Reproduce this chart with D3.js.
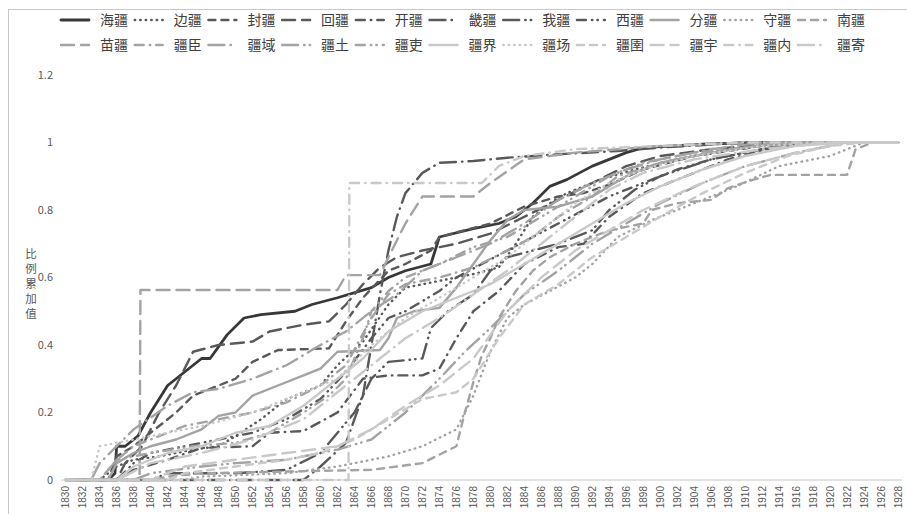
<!DOCTYPE html>
<html>
<head>
<meta charset="utf-8">
<script src="https://cdn.jsdelivr.net/npm/d3@7"></script>
<style>
	body { margin: 0; background: #fff; }
	svg { display: block; font-family: "Noto Sans CJK SC", "Noto Sans", sans-serif; }
</style>
</head>
<body>
<svg id="chart" width="907" height="514"></svg>
<script>
// series names, in legend order
const seriesNames = ['海疆', '边疆', '封疆', '回疆', '开疆', '畿疆', '我疆', '西疆', '分疆', '守疆', '南疆',
	'苗疆', '疆臣', '疆域', '疆土', '疆吏', '疆界', '疆场', '疆圉', '疆宇', '疆内', '疆寄'];

// [year, cumulative share]
const haijiang = [[1830,0],[1835,0],[1835.8,0.02],[1836,0.1],[1837,0.1],[1838.5,0.13],[1840,0.2],[1842,0.28],[1844,0.32],[1846,0.36],[1847,0.36],[1849,0.43],[1851,0.48],[1853,0.49],[1857,0.5],[1859,0.52],[1862,0.54],[1866,0.57],[1868,0.6],[1870,0.62],[1873,0.64],[1874,0.72],[1878,0.745],[1881,0.76],[1883,0.78],[1885,0.82],[1887,0.87],[1889,0.89],[1892,0.93],[1894,0.95],[1896,0.97],[1898,0.985],[1905,0.995],[1912,1],[1928,1]];
const bianjiang = [[1830,0],[1834,0],[1836,0.04],[1838,0.06],[1841,0.07],[1845,0.09],[1848,0.1],[1850,0.13],[1853,0.18],[1856,0.24],[1860,0.28],[1862,0.34],[1865,0.41],[1868,0.52],[1870,0.57],[1874,0.59],[1878,0.61],[1881,0.63],[1883,0.7],[1885,0.78],[1887,0.82],[1889,0.85],[1893,0.89],[1897,0.92],[1902,0.95],[1908,0.98],[1915,1],[1928,1]];
const fengjiang = [[1830,0],[1835,0],[1836,0.07],[1838,0.1],[1840,0.14],[1843,0.2],[1845,0.25],[1848,0.28],[1850,0.3],[1852,0.35],[1855,0.385],[1861,0.39],[1863,0.47],[1865,0.54],[1868,0.62],[1870,0.64],[1873,0.68],[1874,0.72],[1877,0.74],[1880,0.76],[1884,0.81],[1888,0.84],[1891,0.85],[1894,0.875],[1898,0.92],[1904,0.96],[1912,0.99],[1920,1],[1928,1]];
const huijiang = [[1830,0],[1836,0],[1837,0.05],[1839,0.1],[1841,0.2],[1843,0.28],[1845,0.38],[1848,0.4],[1852,0.41],[1854,0.44],[1858,0.46],[1861,0.47],[1863,0.52],[1865,0.58],[1867,0.63],[1869,0.66],[1872,0.68],[1876,0.7],[1880,0.73],[1884,0.78],[1888,0.83],[1892,0.88],[1896,0.93],[1900,0.96],[1906,0.98],[1914,1],[1928,1]];
const kaijiang = [[1830,0],[1836,0],[1838,0.03],[1842,0.06],[1846,0.095],[1852,0.1],[1854,0.14],[1858,0.145],[1862,0.2],[1865,0.3],[1868,0.31],[1872,0.31],[1874,0.33],[1876,0.42],[1878,0.5],[1881,0.56],[1884,0.64],[1888,0.69],[1891,0.7],[1894,0.78],[1898,0.85],[1903,0.9],[1908,0.95],[1914,0.99],[1920,1],[1928,1]];
const jijiang = [[1830,0],[1858,0],[1860,0.04],[1863,0.11],[1865,0.25],[1866,0.4],[1867,0.55],[1868,0.68],[1869,0.78],[1870,0.85],[1872,0.91],[1874,0.94],[1878,0.945],[1882,0.955],[1888,0.965],[1895,0.975],[1900,0.985],[1910,1],[1928,1]];
const wojiang = [[1830,0],[1840,0],[1842,0.02],[1850,0.02],[1856,0.03],[1860,0.08],[1864,0.2],[1866,0.3],[1868,0.35],[1872,0.36],[1873,0.45],[1875,0.5],[1878,0.55],[1880,0.62],[1882,0.66],[1885,0.68],[1888,0.7],[1892,0.74],[1894,0.8],[1897,0.86],[1900,0.9],[1906,0.95],[1912,0.98],[1918,1],[1928,1]];
const xijiang = [[1830,0],[1836,0],[1838,0.05],[1840,0.08],[1844,0.1],[1848,0.12],[1852,0.14],[1856,0.18],[1860,0.24],[1863,0.32],[1866,0.42],[1868,0.48],[1870,0.5],[1872,0.53],[1874,0.56],[1876,0.6],[1879,0.64],[1882,0.68],[1885,0.72],[1888,0.76],[1891,0.8],[1894,0.84],[1898,0.88],[1902,0.92],[1906,0.95],[1912,0.98],[1918,1],[1928,1]];
const fenjiang = [[1830,0],[1835,0],[1836,0.05],[1838,0.08],[1840,0.1],[1843,0.12],[1846,0.15],[1848,0.19],[1850,0.2],[1852,0.25],[1855,0.28],[1858,0.31],[1860,0.33],[1862,0.38],[1867,0.385],[1868,0.42],[1869,0.48],[1871,0.5],[1874,0.51],[1876,0.57],[1878,0.64],[1880,0.71],[1882,0.77],[1884,0.8],[1888,0.81],[1892,0.84],[1896,0.9],[1900,0.94],[1906,0.97],[1914,1],[1928,1]];
const shoujiang = [[1830,0],[1844,0],[1846,0.01],[1856,0.02],[1862,0.04],[1868,0.07],[1872,0.1],[1876,0.15],[1878,0.25],[1880,0.38],[1882,0.48],[1884,0.52],[1887,0.56],[1890,0.6],[1892,0.64],[1895,0.72],[1899,0.77],[1905,0.83],[1909,0.87],[1914,0.93],[1920,0.96],[1924,1],[1928,1]];
const nanjiang = [[1830,0],[1840,0],[1842,0.01],[1846,0.02],[1866,0.03],[1872,0.05],[1876,0.1],[1877,0.2],[1878,0.29],[1879,0.37],[1880,0.42],[1881,0.48],[1882,0.52],[1883,0.56],[1885,0.62],[1887,0.66],[1890,0.7],[1893,0.73],[1895,0.745],[1898,0.76],[1899,0.8],[1902,0.82],[1906,0.83],[1908,0.865],[1911,0.89],[1913,0.904],[1922,0.904],[1923,0.98],[1925,1],[1928,1]];
const miaojiang = [[1830,0],[1838.7,0],[1838.8,0.563],[1862,0.563],[1863,0.607],[1867,0.607],[1868,0.66],[1870,0.76],[1872,0.84],[1878,0.84],[1880,0.88],[1884,0.95],[1890,0.97],[1900,0.99],[1912,1],[1928,1]];
const jiangchen = [[1830,0],[1834,0],[1836,0.06],[1838,0.1],[1840,0.12],[1844,0.16],[1848,0.18],[1852,0.2],[1856,0.23],[1860,0.28],[1863,0.34],[1866,0.48],[1868,0.55],[1870,0.58],[1874,0.6],[1878,0.63],[1882,0.68],[1885,0.72],[1888,0.78],[1892,0.84],[1895,0.9],[1900,0.94],[1906,0.97],[1912,0.99],[1918,1],[1928,1]];
const jiangyu = [[1830,0],[1833,0],[1834,0.05],[1836,0.1],[1838,0.15],[1842,0.22],[1845,0.26],[1848,0.27],[1852,0.3],[1856,0.34],[1860,0.4],[1863,0.44],[1866,0.5],[1869,0.55],[1872,0.62],[1876,0.66],[1880,0.7],[1884,0.76],[1888,0.83],[1892,0.88],[1896,0.92],[1900,0.95],[1906,0.98],[1912,1],[1928,1]];
const jiangtu = [[1830,0],[1838,0],[1840,0.02],[1846,0.04],[1850,0.05],[1856,0.06],[1862,0.09],[1866,0.12],[1870,0.2],[1874,0.3],[1877,0.38],[1880,0.45],[1884,0.55],[1888,0.62],[1892,0.7],[1896,0.76],[1900,0.82],[1905,0.88],[1910,0.93],[1916,0.97],[1922,1],[1928,1]];
const jiangli = [[1830,0],[1834,0],[1836,0.06],[1840,0.08],[1845,0.1],[1850,0.11],[1854,0.14],[1858,0.2],[1861,0.25],[1863,0.3],[1865,0.42],[1866,0.5],[1868,0.56],[1870,0.6],[1874,0.64],[1878,0.69],[1882,0.72],[1886,0.78],[1890,0.84],[1894,0.9],[1898,0.94],[1904,0.97],[1912,0.99],[1920,1],[1928,1]];
const jiangjie = [[1830,0],[1836,0],[1838,0.04],[1842,0.08],[1846,0.1],[1850,0.14],[1854,0.16],[1858,0.22],[1862,0.3],[1865,0.36],[1868,0.44],[1872,0.5],[1876,0.54],[1880,0.58],[1884,0.64],[1888,0.7],[1892,0.76],[1896,0.82],[1900,0.87],[1905,0.92],[1910,0.96],[1916,0.99],[1922,1],[1928,1]];
const jiangchang = [[1830,0],[1833,0],[1834,0.1],[1836,0.11],[1840,0.13],[1846,0.16],[1852,0.2],[1858,0.26],[1862,0.3],[1866,0.4],[1870,0.48],[1874,0.54],[1878,0.6],[1882,0.66],[1886,0.74],[1890,0.82],[1894,0.88],[1898,0.92],[1904,0.96],[1912,0.99],[1920,1],[1928,1]];
const jiangyu2 = [[1830,0],[1842,0],[1844,0.02],[1850,0.04],[1856,0.06],[1860,0.08],[1864,0.12],[1868,0.18],[1872,0.24],[1876,0.26],[1878,0.3],[1881,0.42],[1884,0.52],[1888,0.58],[1892,0.66],[1896,0.72],[1900,0.78],[1905,0.85],[1910,0.91],[1915,0.96],[1920,0.99],[1924,1],[1928,1]];
const jiangyu3 = [[1830,0],[1840,0],[1844,0.04],[1850,0.06],[1856,0.08],[1862,0.1],[1866,0.15],[1870,0.22],[1874,0.28],[1878,0.36],[1882,0.5],[1886,0.6],[1890,0.68],[1894,0.74],[1898,0.8],[1904,0.87],[1910,0.93],[1916,0.97],[1922,1],[1928,1]];
const jiangnei = [[1830,0],[1863.3,0],[1863.4,0.88],[1879,0.88],[1881,0.93],[1884,0.96],[1890,0.98],[1900,0.99],[1910,1],[1928,1]];
const jiangji = [[1830,0],[1836,0],[1840,0.05],[1846,0.08],[1852,0.12],[1858,0.18],[1862,0.26],[1866,0.34],[1870,0.42],[1874,0.48],[1878,0.55],[1882,0.62],[1886,0.7],[1890,0.78],[1894,0.86],[1898,0.91],[1904,0.95],[1912,0.98],[1920,1],[1928,1]];

const seriesData = [haijiang, bianjiang, fengjiang, huijiang, kaijiang, jijiang, wojiang, xijiang, fenjiang, shoujiang, nanjiang,
	miaojiang, jiangchen, jiangyu, jiangtu, jiangli, jiangjie, jiangchang, jiangyu2, jiangyu3, jiangnei, jiangji];

const yTicks = [0, 0.2, 0.4, 0.6, 0.8, 1, 1.2];
const xTicks = [1830,1832,1834,1836,1838,1840,1842,1844,1846,1848,1850,1852,1854,1856,1858,1860,1862,1864,1866,1868,1870,1872,1874,1876,1878,1880,1882,1884,1886,1888,1890,1892,1894,1896,1898,1900,1902,1904,1906,1908,1910,1912,1914,1916,1918,1920,1922,1924,1926,1928];

// line styles: 8 dash types cycling, greys getting lighter every 8 series
const dashes = [null, '0.5 5', '7 6', '13 7', '9 6 0.5 6', '16 6 0.5 6', '16 6 0.5 5 0.5 6', '9 6 0.5 5 0.5 6'];
const color = (i) => i == 0 ? '#383838' : i < 8 ? '#595959' : i < 16 ? '#a3a3a3' : '#c9c9c9';

const svg = d3.select('#chart');

// chart frame
svg.append('rect')
	.attr('x', 8.5).attr('y', 9.5)
	.attr('width', 920).attr('height', 520)
	.attr('fill', 'none').attr('stroke', '#c8c8c8');

const x = d3.scaleLinear().domain([1830, 1928]).range([65.7, 898]);
const y = d3.scaleLinear().domain([0, 1.2]).range([480, 75]);

// y tick labels
svg.selectAll('text.ytick')
	.data(yTicks)
	.enter()
	.append('text')
	.attr('class', 'ytick')
	.attr('x', 53)
	.attr('y', d => y(d))
	.attr('dy', '0.35em')
	.attr('text-anchor', 'end')
	.attr('font-size', '11px')
	.attr('fill', '#595959')
	.text(d => d);

// y title, one character per line
svg.selectAll('text.ytitle')
	.data(Array.from('比例累加值'))
	.enter()
	.append('text')
	.attr('class', 'ytitle')
	.attr('x', 31)
	.attr('y', (d, i) => 254 + i * 15)
	.attr('dy', '0.35em')
	.attr('text-anchor', 'middle')
	.attr('font-size', '11.5px')
	.attr('fill', '#595959')
	.text(d => d);

// x baseline and labels
svg.append('line')
	.attr('x1', 61).attr('x2', 902)
	.attr('y1', y(0)).attr('y2', y(0))
	.attr('stroke', '#d9d9d9').attr('stroke-width', 1.5);

svg.selectAll('text.xtick')
	.data(xTicks)
	.enter()
	.append('text')
	.attr('class', 'xtick')
	.attr('transform', d => `translate(${x(d)},486) rotate(-90)`)
	.attr('dy', '0.35em')
	.attr('text-anchor', 'end')
	.attr('font-size', '10px')
	.attr('fill', '#595959')
	.attr('font-family', 'Liberation Sans, Arial, sans-serif')
	.text(d => d);

// series lines
const line = d3.line().x(d => x(d[0])).y(d => y(d[1]));
svg.append('g')
	.selectAll('path')
	.data(seriesData)
	.enter()
	.append('path')
	.attr('d', d => line(d))
	.attr('fill', 'none')
	.attr('stroke', (d, i) => color(i))
	.attr('stroke-width', (d, i) => i == 0 ? 2.8 : 2.4)
	.attr('stroke-linecap', 'round')
	.attr('stroke-linejoin', 'round')
	.attr('stroke-dasharray', (d, i) => dashes[i % 8]);

// legend, two rows of 11
const legend = svg.append('g')
	.selectAll('g')
	.data(seriesNames)
	.enter()
	.append('g')
	.attr('transform', (d, i) => `translate(${60 + (i % 11) * 73.7},${i < 11 ? 20 : 45})`);
legend.append('line')
	.attr('x1', 1).attr('x2', 29)
	.attr('stroke', (d, i) => color(i))
	.attr('stroke-width', (d, i) => i == 0 ? 2.8 : 2.4)
	.attr('stroke-linecap', 'round')
	.attr('stroke-dasharray', (d, i) => dashes[i % 8]);
legend.append('text')
	.attr('x', 40)
	.attr('dy', '0.35em')
	.attr('font-size', '14px')
	.attr('fill', '#404040')
	.text(d => d);
</script>
</body>
</html>
